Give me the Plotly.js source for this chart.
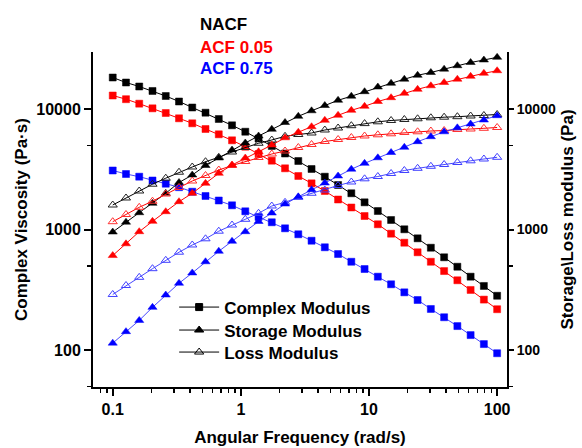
<!DOCTYPE html>
<html>
<head>
<meta charset="utf-8">
<script src="https://cdn.plot.ly/plotly-3.0.1.min.js"></script>
<style>html,body{margin:0;padding:0;background:#fff;}#chart{width:582px;height:448px;}</style>
</head>
<body>
<div id="chart"></div>
<script>
// Angular frequency (rad/s)
const freq = [0.1, 0.1269, 0.1610, 0.2043, 0.2593, 0.3290, 0.4175, 0.5298, 0.6723, 0.8532,
  1.083, 1.374, 1.743, 2.212, 2.807, 3.562, 4.520, 5.736, 7.279, 9.237,
  11.72, 14.87, 18.87, 23.95, 30.39, 38.57, 48.94, 62.10, 78.80, 100];

// Complex viscosity (Pa·s)
const nacfComplex = [18250,16590,15370,14110,12820,11540,10290,9317,8260,7322,6478,5690,4932,4271,3702,3178,2743,2340,1998,1681,1424,1199,1004,845,706,588,491,406,340,282];
const acf005Complex = [12940,12060,11070,10130,9264,8372,7609,6823,6166,5498,4864,4231,3724,3220,2780,2416,2087,1774,1523,1294,1105,923,777,647,540,452,379,315,262,218];
const acf075Complex = [3088,2888,2743,2550,2399,2244,2059,1897,1740,1588,1416,1270,1148,1023,913,807,712,626,540,470,406,351,301,260,219,187,158,133,112,94];

// Storage modulus (Pa)
const nacfStorage = [953,1150,1378,1650,1998,2455,2833,3397,3921,4568,5224,5970,6787,7727,8698,9663,10690,11810,12770,13920,15220,16340,17670,19050,20090,21400,22870,24320,25510,26850];
const acf005Storage = [608,761,959,1169,1405,1701,1998,2416,2927,3429,3921,4420,5025,5768,6418,7129,8057,8864,9754,10530,11540,12410,13500,14570,15580,16590,17670,18680,19780,20780];
const acf075Storage = [114,142,176,226,286,358,436,540,660,799,959,1165,1370,1628,1868,2139,2430,2780,3166,3542,3936,4355,4811,5355,5890,6467,6982,7506,8102,8798];

// Loss modulus (Pa)
const nacfLoss = [1597,1826,2087,2376,2665,2988,3302,3652,3974,4396,4792,5195,5529,5934,6143,6321,6694,6955,7268,7565,7829,8028,8183,8293,8453,8551,8631,8748,8833,9003];
const acf005Loss = [1161,1332,1528,1717,1970,2231,2526,2806,3117,3397,3667,3958,4231,4481,4792,5074,5375,5583,5801,5970,6108,6226,6383,6469,6568,6631,6760,6823,6916,7023];
const acf075Loss = [289,343,401,473,555,648,744,837,968,1089,1215,1363,1567,1681,1850,1998,2127,2318,2479,2634,2753,2916,3088,3220,3346,3463,3597,3716,3846,3974];

const sampleNames = ["NACF", "ACF 0.05", "ACF 0.75"];
const sampleColors = ["#000000", "#ff0000", "#0000ff"];
const legendNames = ["Complex Modulus", "Storage Modulus", "Loss Modulus"];
const xTicks = [0.1, 1, 10, 100];
const xTickText = ["0.1", "1", "10", "100"];
const yTicks = [100, 1000, 10000];
const yTickText = ["100", "1000", "10000"];
const yMinor = [50, 500, 5000];
const BS = String.fromCharCode(92);
const rightTitle = "Storage" + BS + "Loss modulus (Pa)";

const FONT = "Liberation Sans, Arial, sans-serif";
const complexSets = [nacfComplex, acf005Complex, acf075Complex];
const storageSets = [nacfStorage, acf005Storage, acf075Storage];
const lossSets = [nacfLoss, acf005Loss, acf075Loss];
const lineColors = ["#000000", "#ff0000", "rgba(40,40,255,0.85)"];
const openColors = ["#222222", "#ff3030", "#4040ff"];

const traces = [];
for (let s = 0; s < 3; s++) {
  traces.push({x: freq, y: complexSets[s], yaxis: "y", type: "scatter", mode: "lines+markers",
    name: sampleNames[s] + " complex", showlegend: false,
    line: {color: lineColors[s], width: 1},
    marker: {symbol: "square", size: 7, color: sampleColors[s], line: {width: 0.5, color: sampleColors[s]}}});
  traces.push({x: freq, y: lossSets[s], yaxis: "y2", type: "scatter", mode: "lines+markers",
    name: sampleNames[s] + " loss", showlegend: false,
    line: {color: lineColors[s], width: 1},
    marker: {symbol: "triangle-up-open", size: 8, color: openColors[s], line: {width: 1, color: openColors[s]}}});
  traces.push({x: freq, y: storageSets[s], yaxis: "y2", type: "scatter", mode: "lines+markers",
    name: sampleNames[s] + " storage", showlegend: false,
    line: {color: lineColors[s], width: 1},
    marker: {symbol: "triangle-up", size: 8, color: sampleColors[s], line: {width: 0.5, color: sampleColors[s]}}});
}
// legend-only entries, one legend each so rows can be spaced like the reference
const legendSymbols = ["square", "triangle-up", "triangle-up-open"];
const legendIds = ["legend", "legend2", "legend3"];
for (let k = 0; k < 3; k++) {
  traces.push({x: [null], y: [null], type: "scatter", mode: "lines+markers", name: legendNames[k],
    showlegend: true, legend: legendIds[k], line: {color: "#000", width: 1},
    marker: {symbol: legendSymbols[k], size: k === 0 ? 7 : 8, color: "#000", line: {width: 1, color: "#000"}}});
}

const annotations = sampleNames.map((t, i) => ({
  text: t, xref: "paper", yref: "paper", x: 0.2537, y: [1.0806, 1.0149, 0.9522][i],
  xanchor: "left", yanchor: "middle", showarrow: false,
  font: {family: FONT, size: 17, color: sampleColors[i], weight: "bold"}
}));

function legendBox(y) {
  return {x: 0.196, y: y, xanchor: "left", yanchor: "top",
    bgcolor: "rgba(0,0,0,0)", borderwidth: 0, itemwidth: 40,
    font: {family: FONT, size: 17, weight: "bold", color: "#000"}};
}

const layout = {
  width: 582, height: 448,
  margin: {l: 93, r: 75, t: 52, b: 61},
  paper_bgcolor: "#fff", plot_bgcolor: "#fff",
  showlegend: true,
  font: {family: FONT, color: "#000"},
  xaxis: {
    type: "log", range: [-1.154, 2.077], showgrid: false, zeroline: false,
    showline: true, linewidth: 2, linecolor: "#000", mirror: false,
    ticks: "outside", ticklen: 7, tickwidth: 2, tickcolor: "#000",
    tickmode: "array", tickvals: xTicks, ticktext: xTickText,
    tickfont: {family: FONT, size: 16, weight: "bold"},
    minor: {ticks: "outside", ticklen: 4, tickwidth: 1.5, tickcolor: "#000", dtick: "D1", showgrid: false},
    title: {text: "Angular Frequency (rad/s)", standoff: 14, font: {family: FONT, size: 17, weight: "bold"}}
  },
  yaxis: {
    type: "log", range: [1.693, 4.473], showgrid: false, zeroline: false,
    showline: true, linewidth: 2, linecolor: "#000",
    ticks: "outside", ticklen: 7, tickwidth: 2, tickcolor: "#000",
    tickmode: "array", tickvals: yTicks, ticktext: yTickText,
    tickfont: {family: FONT, size: 16, weight: "bold"},
    minor: {ticks: "outside", ticklen: 4, tickwidth: 1.5, tickcolor: "#000", tickmode: "array", tickvals: yMinor, showgrid: false},
    title: {text: "Complex Viscosity (Pa·s)", standoff: 4, font: {family: FONT, size: 17, weight: "bold"}}
  },
  yaxis2: {
    type: "log", range: [1.693, 4.473], overlaying: "y", side: "right", anchor: "x",
    showgrid: false, zeroline: false,
    showline: true, linewidth: 2, linecolor: "#000",
    ticks: "outside", ticklen: 5, tickwidth: 2, tickcolor: "#000",
    tickmode: "array", tickvals: yTicks, ticktext: yTickText,
    tickfont: {family: FONT, size: 14, weight: "bold"},
    minor: {ticks: "outside", ticklen: 4, tickwidth: 1.5, tickcolor: "#000", tickmode: "array", tickvals: yMinor, showgrid: false},
    title: {text: rightTitle, standoff: 6, font: {family: FONT, size: 17, weight: "bold"}}
  },
  legend: legendBox(0.2910),
  legend2: legendBox(0.2224),
  legend3: legendBox(0.1567),
  annotations: annotations
};

Plotly.newPlot("chart", traces, layout, {displayModeBar: false, staticPlot: true});
</script>
</body>
</html>
